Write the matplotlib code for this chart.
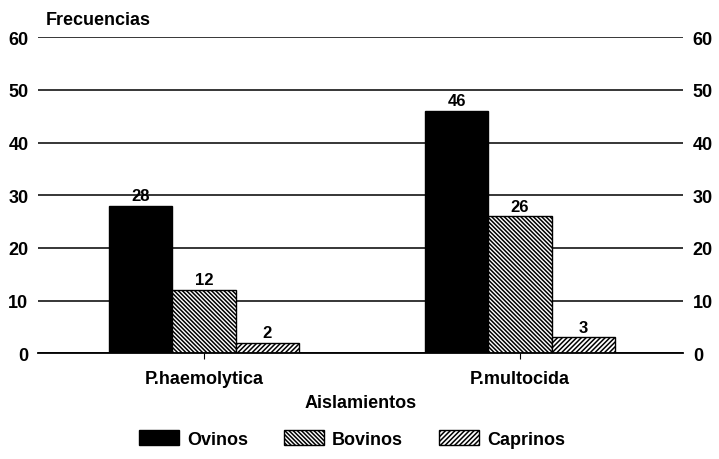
import numpy as np
import matplotlib.pyplot as plt

plt.rcParams['font.family'] = ['Liberation Sans', 'DejaVu Sans']
plt.rcParams['font.weight'] = 'bold'
plt.rcParams['hatch.linewidth'] = 1.1

categories = ['P.haemolytica', 'P.multocida']
ovinos = [28, 46]
bovinos = [12, 26]
caprinos = [2, 3]
yticks = [0, 10, 20, 30, 40, 50, 60]

fig = plt.figure(figsize=(7.19, 4.60), dpi=100)
ax = fig.add_axes([0.053, 0.230, 0.897, 0.687])

x = np.arange(len(categories))
w = 0.2
b1 = ax.bar(x - w, ovinos, w, color='black', edgecolor='black', label='Ovinos')
b2 = ax.bar(x, bovinos, w, color='white', edgecolor='black', hatch='\\' * 8, label='Bovinos')
b3 = ax.bar(x + w, caprinos, w, color='white', edgecolor='black', hatch='/' * 7, label='Caprinos')

for bars in (b1, b2, b3):
    for r in bars:
        ax.text(r.get_x() + r.get_width() / 2, r.get_height() + 0.5, f'{int(r.get_height())}',
                ha='center', va='bottom', fontsize=12, fontweight='bold')

ax.set_xlim(-0.525, 1.516)
ax.set_ylim(0, 60)
ax.set_yticks(yticks)
ax.yaxis.grid(True, color='black', linewidth=1.1)
ax.set_axisbelow(True)
for s in ('left', 'right', 'top'):
    ax.spines[s].set_visible(False)
ax.spines['bottom'].set_linewidth(1.3)
ax.tick_params(axis='y', length=0, labelsize=13, pad=7, labelright=True)
ax.tick_params(axis='x', length=4, labelsize=13, pad=8)
ax.set_xticks(x)
ax.set_xticklabels(categories, fontweight='bold')
for lbl in ax.get_yticklabels():
    lbl.set_fontweight('bold')

ax.set_xlabel('Aislamientos', fontsize=13, fontweight='bold', labelpad=5)
fig.text(0.063, 0.945, 'Frecuencias', fontsize=13, fontweight='bold')

fig.legend(handles=[b1, b2, b3], loc='center', bbox_to_anchor=(0.49, 0.043), ncol=3,
           frameon=False, fontsize=13, handlelength=2.2, handleheight=0.9, columnspacing=2.0,
           handletextpad=0.45)

plt.savefig('out.png', dpi=100)
